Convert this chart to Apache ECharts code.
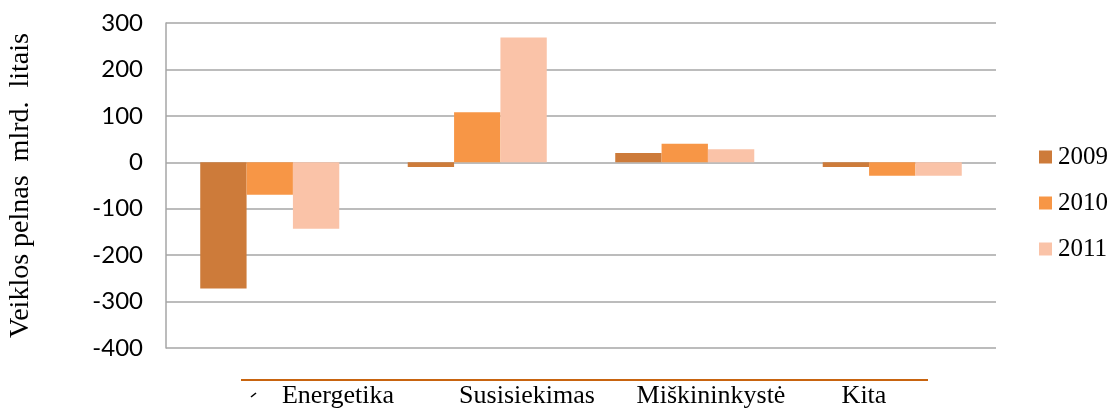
<!DOCTYPE html>
<html>
<head>
<meta charset="utf-8">
<script src="https://cdn.jsdelivr.net/npm/echarts@6/dist/echarts.min.js"></script>
<style>
  html, body { margin: 0; padding: 0; background: #ffffff; }
  #chart { width: 1112px; height: 415px; }
</style>
</head>
<body>
<div id="chart"></div>
<script>
// Operating profit by sector, billion litas
const categories = ['Energetika', 'Susisiekimas', 'Miškininkystė', 'Kita'];
const years = ['2009', '2010', '2011'];
const values2009 = [-272, -10, 20, -10];
const values2010 = [-70, 108, 40, -29];
const values2011 = [-143, 269, 28, -29];
const yTicks = { min: -400, max: 300, step: 100 };

const colors = ['#CD7B3A', '#F79646', '#FAC3A8'];
const serif = '"Liberation Serif", "Times New Roman", serif';
const sans = 'Lato, "Liberation Sans", sans-serif';

// Sector names sit under the axis at their own positions
const labelCenters = [338, 527, 711, 864];

const chart = echarts.init(document.getElementById('chart'), null, { renderer: 'canvas' });

const seriesData = [values2009, values2010, values2011];

chart.setOption({
  animation: false,
  backgroundColor: '#ffffff',
  color: colors,
  grid: { left: 166, right: 116, top: 23, bottom: 67, containLabel: false, outerBoundsMode: 'none' },
  legend: {
    data: years,
    orient: 'vertical',
    left: 1039,
    top: 144,
    padding: 0,
    itemWidth: 13,
    itemHeight: 13,
    itemGap: 20,
    icon: 'rect',
    textStyle: { fontFamily: serif, fontSize: 25, color: '#000', lineHeight: 26, padding: [0, 0, 0, 1] }
  },
  xAxis: {
    type: 'category',
    data: categories,
    axisLine: { show: false },
    axisTick: { show: false },
    axisLabel: { show: false },
    splitLine: { show: false }
  },
  yAxis: {
    type: 'value',
    min: yTicks.min,
    max: yTicks.max,
    interval: yTicks.step,
    name: 'Veiklos pelnas  mlrd.  litais',
    nameLocation: 'middle',
    nameGap: 131,
    nameTextStyle: { fontFamily: serif, fontSize: 28, color: '#000' },
    axisLine: { show: true, lineStyle: { color: '#A6A6A6', width: 1.5 } },
    axisTick: { show: false },
    axisLabel: { fontFamily: sans, fontSize: 24, color: '#000', margin: 23 },
    splitLine: { lineStyle: { color: '#A6A6A6', width: 1.5 } }
  },
  series: years.map((y, i) => ({
    name: y,
    type: 'bar',
    data: seriesData[i],
    barGap: '0%',
    barCategoryGap: '33%',
    itemStyle: { color: colors[i] }
  })),
  graphic: [
    {
      type: 'line',
      shape: { x1: 241, y1: 380, x2: 928, y2: 380 },
      style: { stroke: '#C8640F', lineWidth: 2 },
      silent: true
    },
    {
      type: 'line',
      shape: { x1: 251, y1: 397, x2: 256, y2: 393 },
      style: { stroke: '#000', lineWidth: 1.6 },
      silent: true
    }
  ].concat(categories.map((c, i) => ({
    type: 'text',
    x: labelCenters[i],
    y: 396,
    style: {
      text: c,
      fontFamily: serif,
      fontSize: 26,
      fill: '#000',
      align: 'center',
      verticalAlign: 'middle'
    },
    silent: true
  })))
});
</script>
</body>
</html>
